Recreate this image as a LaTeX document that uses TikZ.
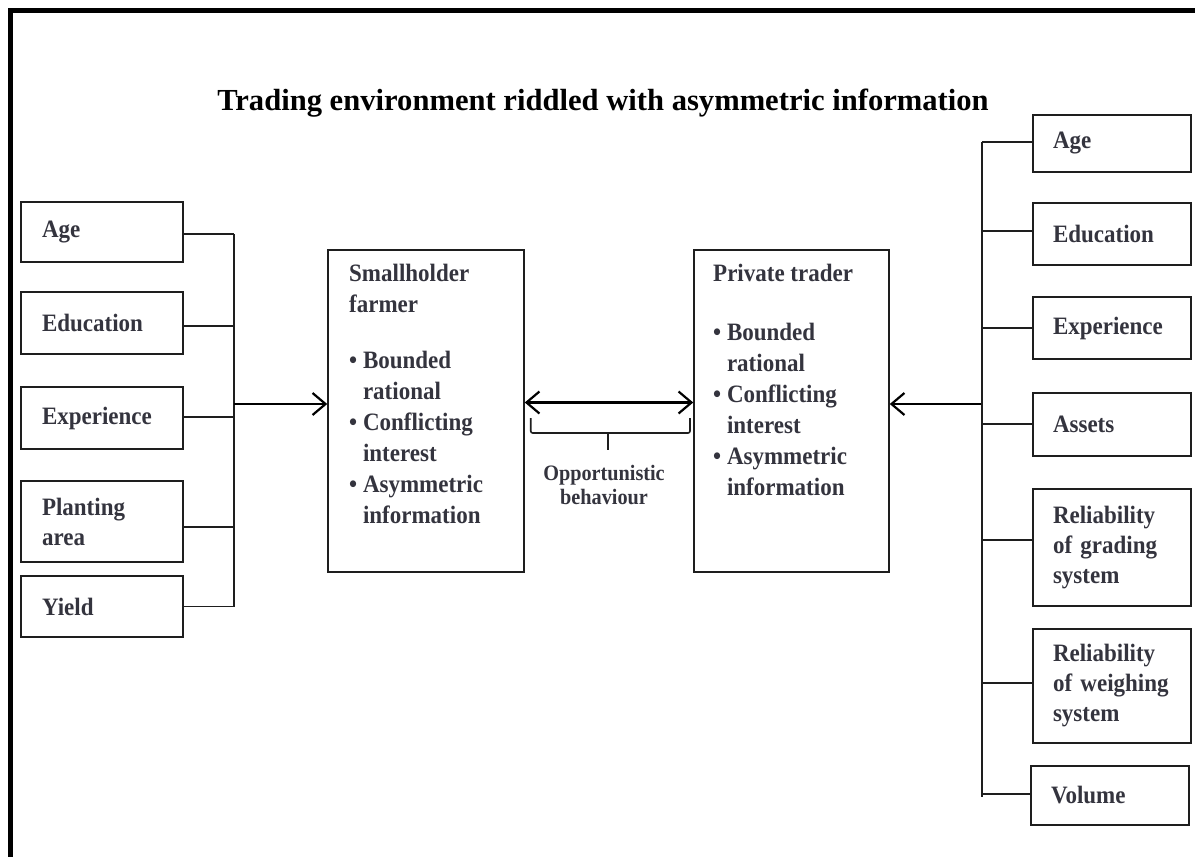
\documentclass[tikz,border=0pt]{standalone}
\usepackage{fontspec}
\setmainfont{Liberation Serif}
\newfontfamily\bxf{Liberation Serif}[FakeStretch=0.92]
\usetikzlibrary{arrows.meta,calc}
\definecolor{txtc}{HTML}{34343E}
\definecolor{linec}{HTML}{1E1E1E}
\begin{document}
\begin{tikzpicture}[x=1pt,y=-1pt,
  box/.style={draw=linec, line width=1.5pt, rectangle, inner sep=0pt},
  boxtxt/.style={font=\bxf\bfseries\fontsize{25}{30}\selectfont, text=txtc},
  lbox/.style={box, boxtxt, minimum width=162pt, text width=120pt, inner xsep=21pt, inner ysep=0pt, align=left},
  rbox/.style={box, boxtxt, minimum width=158pt, text width=118pt, inner xsep=20pt, inner ysep=0pt, align=left},
  ctext/.style={font=\bxf\bfseries\fontsize{25}{31}\selectfont, text=txtc, align=left, inner sep=0pt},
  conn/.style={draw=linec, line width=1.5pt},
  arr/.style={draw=black, line width=2.2pt, -{Straight Barb[length=13pt,width=22pt,line width=2.2pt]}},
  arrb/.style={draw=black, line width=2.2pt, {Straight Barb[length=13pt,width=22pt,line width=2.2pt]}-{Straight Barb[length=13pt,width=22pt,line width=2.2pt]}}
]
\fill[white] (0,0) rectangle (1195,857);
\useasboundingbox (0,0) rectangle (1195,857);
\draw[line width=5pt] (10,857) -- (10,10) -- (1195,10);

% title
\node[font=\bfseries\fontsize{30.6}{36}\selectfont, anchor=base, inner sep=0pt] (title) at (603,110) {Trading environment riddled with asymmetric information};

% left boxes
\node[lbox, minimum height=60pt] (lage) at (102,232) {Age};
\node[lbox, minimum height=62pt] (ledu) at (102,323) {Education};
\node[lbox, minimum height=62pt] (lexp) at (102,418) {Experience};
\node[lbox, minimum height=81pt] (lpla) at (102,521.5) {Planting\\area};
\node[lbox, minimum height=61pt] (lyie) at (102,606.5) {Yield};

\coordinate (lbT) at (234,234);
\coordinate (lbB) at (234,607);
\draw[conn] (lbT) -- (lbB);
\draw[conn] ([yshift=-2pt]lage.east) -- ([yshift=-2pt]lage.east -| lbT);
\draw[conn] ([yshift=-3pt]ledu.east) -- ([yshift=-3pt]ledu.east -| lbT);
\draw[conn] ([yshift=1pt]lexp.east) -- ([yshift=1pt]lexp.east -| lbT);
\draw[conn] ([yshift=-5.5pt]lpla.east) -- ([yshift=-5.5pt]lpla.east -| lbT);
\draw[conn] (lyie.east) -- (lyie.east -| lbT);

% central boxes
\node[box, minimum width=196pt, minimum height=322pt] (sf) at (426,411) {};
\node[ctext, anchor=north west] (sft) at (349,264) {Smallholder\\farmer\\[25pt]\textbullet\ Bounded\\\hphantom{\textbullet\ }rational\\\textbullet\ Conflicting\\\hphantom{\textbullet\ }interest\\\textbullet\ Asymmetric\\\hphantom{\textbullet\ }information};

\node[box, minimum width=195pt, minimum height=322pt] (pt) at (791.5,411) {};
\node[ctext, anchor=north west] (ptt) at (713,264) {Private trader\\[28pt]\textbullet\ Bounded\\\hphantom{\textbullet\ }rational\\\textbullet\ Conflicting\\\hphantom{\textbullet\ }interest\\\textbullet\ Asymmetric\\\hphantom{\textbullet\ }information};

\coordinate (la) at (234,404);
\draw[arr] (la) -- (la -| sf.west);
\draw[arrb] ([yshift=8.5pt]sf.east) -- ([yshift=8.5pt]pt.west);
\coordinate (ra) at (982,404);
\draw[arr] (ra) -- (ra -| pt.east);

% brace
\draw[conn, line width=1.6pt, rounded corners=2pt] (530.7,418) -- (530.7,433) -- (690,433) -- (690,418);
\draw[conn, line width=1.6pt] (608,433) -- (608,450);
\node[font=\bxf\bfseries\fontsize{22}{24}\selectfont, text=txtc, align=center, inner sep=0pt] (opp) at (604,485) {Opportunistic\\behaviour};

% right boxes
\node[rbox, minimum height=57pt] (rage) at (1112,143.5) {Age};
\node[rbox, minimum height=62pt] (redu) at (1112,234) {Education};
\node[rbox, minimum height=62pt] (rexp) at (1112,328) {Experience};
\node[rbox, minimum height=63pt] (rass) at (1112,424.5) {Assets};
\node[rbox, minimum height=117pt] (rgra) at (1112,547.5) {Reliability\\of grading\\system};
\node[rbox, minimum height=114pt] (rwei) at (1112,686) {Reliability\\of weighing\\system};
\node[rbox, minimum height=59pt] (rvol) at (1110,795.5) {Volume};

\coordinate (rbT) at (982,142);
\coordinate (rbB) at (982,797);
\draw[conn] (rbT) -- (rbB);
\draw[conn] ([yshift=1.5pt]rage.west) -- ([yshift=1.5pt]rage.west -| rbT);
\draw[conn] ([yshift=3pt]redu.west) -- ([yshift=3pt]redu.west -| rbT);
\draw[conn] (rexp.west) -- (rexp.west -| rbT);
\draw[conn] ([yshift=0.5pt]rass.west) -- ([yshift=0.5pt]rass.west -| rbT);
\draw[conn] ([yshift=7.5pt]rgra.west) -- ([yshift=7.5pt]rgra.west -| rbT);
\draw[conn] ([yshift=3pt]rwei.west) -- ([yshift=3pt]rwei.west -| rbT);
\draw[conn] ([yshift=1.5pt]rvol.west) -- ([yshift=1.5pt]rvol.west -| rbT);
\end{tikzpicture}
\end{document}
